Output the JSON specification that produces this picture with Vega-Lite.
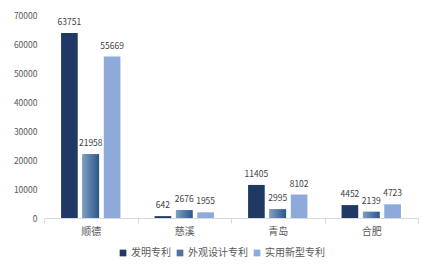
{
  "$schema": "https://vega.github.io/schema/vega-lite/v6.json",
  "width": 374,
  "height": 203,
  "autosize": {"type": "none"},
  "padding": {"left": 44, "top": 15, "right": 18, "bottom": 56},
  "background": "white",
  "config": {
    "font": "Noto Sans CJK SC",
    "view": {"stroke": null}
  },
  "data": {
    "values": [
      {"city": "顺德", "type": "发明专利", "value": 63751},
      {"city": "顺德", "type": "外观设计专利", "value": 21958},
      {"city": "顺德", "type": "实用新型专利", "value": 55669},
      {"city": "慈溪", "type": "发明专利", "value": 642},
      {"city": "慈溪", "type": "外观设计专利", "value": 2676},
      {"city": "慈溪", "type": "实用新型专利", "value": 1955},
      {"city": "青岛", "type": "发明专利", "value": 11405},
      {"city": "青岛", "type": "外观设计专利", "value": 2995},
      {"city": "青岛", "type": "实用新型专利", "value": 8102},
      {"city": "合肥", "type": "发明专利", "value": 4452},
      {"city": "合肥", "type": "外观设计专利", "value": 2139},
      {"city": "合肥", "type": "实用新型专利", "value": 4723}
    ]
  },
  "encoding": {
    "x": {
      "field": "city", "type": "nominal",
      "sort": ["顺德", "慈溪", "青岛", "合肥"],
      "scale": {"paddingInner": 0, "paddingOuter": 0},
      "axis": {
        "title": null, "labelAngle": 0, "labelFontSize": 10, "labelColor": "#595959",
        "domainColor": "#d9d9d9", "tickColor": "#d9d9d9", "tickSize": 5,
        "tickBand": "extent", "labelPadding": 3
      }
    },
    "xOffset": {
      "field": "type", "type": "nominal",
      "sort": ["发明专利", "外观设计专利", "实用新型专利"],
      "scale": {"domain": ["发明专利", "外观设计专利", "实用新型专利"], "paddingInner": 0.22, "paddingOuter": 0.8}
    },
    "y": {
      "field": "value", "type": "quantitative",
      "scale": {"domain": [0, 70000]},
      "axis": {
        "title": null, "values": [0, 10000, 20000, 30000, 40000, 50000, 60000, 70000],
        "format": "d", "grid": false, "domain": false, "ticks": false,
        "labelFontSize": 8.5, "labelColor": "#595959", "labelPadding": 7
      }
    }
  },
  "layer": [
    {
      "mark": {"type": "bar"},
      "encoding": {
        "color": {
          "field": "type", "type": "nominal",
          "scale": {"domain": ["发明专利", "外观设计专利", "实用新型专利"], "range": ["#203864", "#4f74a4", "#8eaadb"]},
          "legend": {
            "title": null, "orient": "none", "direction": "horizontal",
            "legendX": 74, "legendY": 233,
            "symbolType": "square", "symbolSize": 45, "labelFontSize": 10,
            "labelColor": "#595959", "columnPadding": 4, "labelOffset": 3
          }
        }
      }
    },
    {
      "transform": [{"filter": "datum.type === '外观设计专利'"}],
      "mark": {
        "type": "bar",
        "color": {
          "gradient": "linear", "x1": 0, "x2": 1, "y1": 0, "y2": 0,
          "stops": [{"offset": 0, "color": "#809ec4"}, {"offset": 1, "color": "#2b578c"}]
        }
      }
    },
    {
      "mark": {"type": "text", "baseline": "bottom", "dy": -6, "fontSize": 8.5, "color": "#404040"},
      "encoding": {"text": {"field": "value", "type": "quantitative", "format": "d"}}
    }
  ]
}
